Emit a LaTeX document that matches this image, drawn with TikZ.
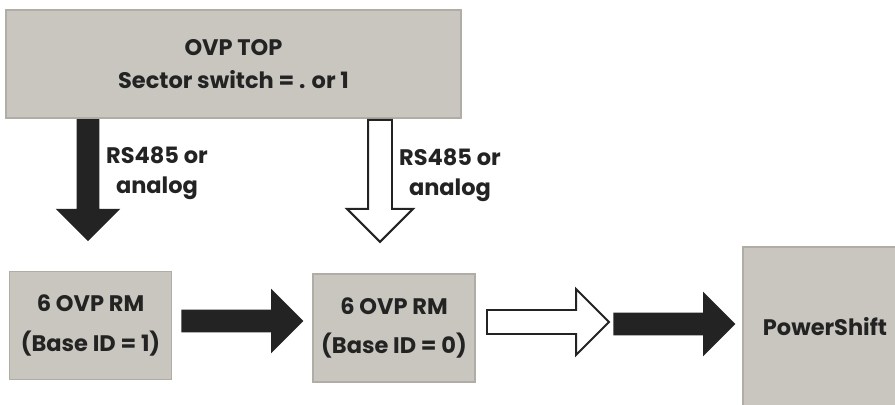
\documentclass[tikz,border=0pt]{standalone}
\usepackage{fontspec}
\setmainfont{Poppins}
\usetikzlibrary{shapes.arrows}
\definecolor{boxfill}{HTML}{C9C6BF}
\definecolor{boxline}{HTML}{B0ADA6}
\definecolor{ink}{HTML}{232323}
\tikzset{
  box/.style={draw=boxline, line width=1.2pt, fill=boxfill, text=ink, align=center,
    font=\fontsize{16}{28}\selectfont\bfseries},
  rmbox/.style={box, minimum width=4.05cm, minimum height=2.7cm},
  fat/.style={single arrow, inner sep=0.275cm, minimum height=3.05cm,
    single arrow head extend=0.525cm, anchor=tail},
  blackfat/.style={fat, fill=ink},
  whitefat/.style={fat, fill=white, draw=ink, line width=1.4pt},
  lbl/.style={text=ink, align=center, font=\fontsize{16}{21}\selectfont\bfseries}
}
\begin{document}
\begin{tikzpicture}[x=0.025cm, y=-0.025cm]
\useasboundingbox (0,0) rectangle (895,405);
\clip (0,0) rectangle (895,405);
% boxes
\node[box, minimum width=11.375cm, minimum height=2.7cm, font=\fontsize{16}{23}\selectfont\bfseries] (top) at (233.5,64) {OVP TOP\\Sector switch = . or 1};
\node[rmbox] (rmone) at (90.5,325.5) {6 OVP RM\\(Base ID = 1)};
\node[rmbox] (rmzero) at (394,328) {6 OVP RM\\(Base ID = 0)};
\node[box, minimum width=4.1cm, minimum height=4cm] (pshift) at (825,327) {PowerShift};
% down arrows
\node[blackfat, shape border rotate=270] (dnone) at (top.south -| 88,0) {};
\node[whitefat, shape border rotate=270] (dnzero) at (top.south -| 380,0) {};
\node[lbl] (lblone) at (157,173) {RS485 or\\analog};
\node[lbl] (lblzero) at (450,175) {RS485 or\\analog};
% right arrows
\node[blackfat] (rtone) at (181,321) {};
\node[whitefat] (rtzero) at (486,322) {};
\node[blackfat] (rtps) at (613,324) {};
\end{tikzpicture}
\end{document}
